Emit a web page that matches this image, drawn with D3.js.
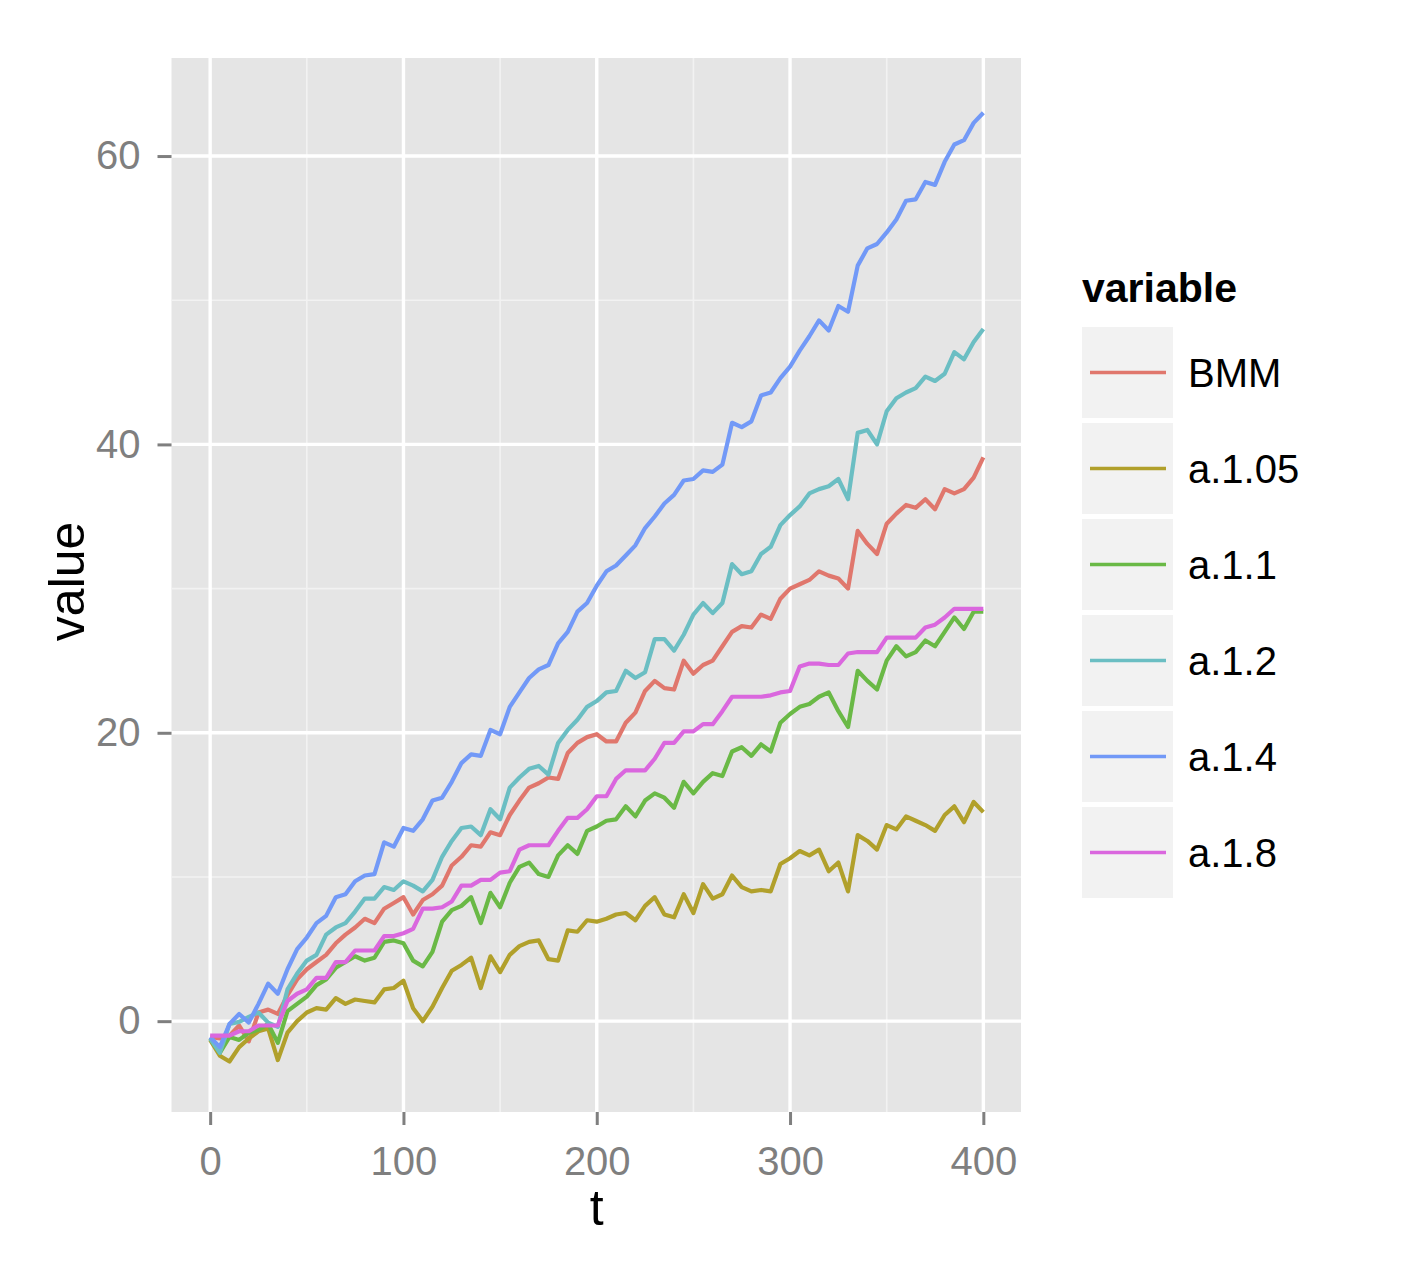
<!DOCTYPE html>
<html lang="en">

<head>
    <meta charset="UTF-8">
    <title>value by t</title>
    <script src="https://d3js.org/d3.v7.min.js"></script>
    <style>
        body {
            margin: 0;
            padding: 0;
            background: #fff;
        }

        svg text {
            font-family: "Liberation Sans", Arial, Helvetica, sans-serif;
        }
    </style>
</head>

<body>
    <div id="chart"></div>
    <script>
        // sample points along t (read every 5 steps off the original plot)
        var tValues = [
            0, 5, 10, 15, 20, 25, 30, 35, 40, 45,
            50, 55, 60, 65, 70, 75, 80, 85, 90, 95,
            100, 105, 110, 115, 120, 125, 130, 135, 140, 145,
            150, 155, 160, 165, 170, 175, 180, 185, 190, 195,
            200, 205, 210, 215, 220, 225, 230, 235, 240, 245,
            250, 255, 260, 265, 270, 275, 280, 285, 290, 295,
            300, 305, 310, 315, 320, 325, 330, 335, 340, 345,
            350, 355, 360, 365, 370, 375, 380, 385, 390, 395,
            400];

        var seriesNames = ["BMM", "a.1.05", "a.1.1", "a.1.2", "a.1.4", "a.1.8"];
        var seriesColors = ["#E0776D", "#B1A02B", "#6AB946", "#6BBEC3", "#7299F7", "#DA67DE"];

        var bmm = [
            -1.1, -1.2, -1.0, -0.3, -1.4, 0.6, 0.8, 0.5, 1.8, 2.9,
            3.6, 4.1, 4.6, 5.4, 6.0, 6.5, 7.1, 6.8, 7.8, 8.2,
            8.6, 7.4, 8.4, 8.8, 9.4, 10.8, 11.4, 12.2, 12.1, 13.1,
            12.9, 14.3, 15.3, 16.2, 16.5, 16.9, 16.8, 18.6, 19.3, 19.7,
            19.9, 19.4, 19.4, 20.7, 21.4, 22.9, 23.6, 23.1, 23.0, 25.0,
            24.1, 24.7, 25.0, 26.0, 27.0, 27.4, 27.3, 28.2, 27.9, 29.3,
            30.0, 30.3, 30.6, 31.2, 30.9, 30.7, 30.0, 34.0, 33.1, 32.4,
            34.5, 35.2, 35.8, 35.6, 36.2, 35.5, 36.9, 36.6, 36.9, 37.7,
            39.1];

        var a105 = [
            -1.3, -2.4, -2.8, -1.8, -1.2, -0.7, -0.5, -2.7, -0.8, 0.0,
            0.6, 0.9, 0.8, 1.6, 1.2, 1.5, 1.4, 1.3, 2.2, 2.3,
            2.8, 0.9, 0.0, 1.0, 2.3, 3.5, 3.9, 4.4, 2.3, 4.5,
            3.4, 4.6, 5.2, 5.5, 5.6, 4.3, 4.2, 6.3, 6.2, 7.0,
            6.9, 7.1, 7.4, 7.5, 7.0, 8.0, 8.6, 7.4, 7.2, 8.8,
            7.5, 9.5, 8.5, 8.8, 10.1, 9.3, 9.0, 9.1, 9.0, 10.9,
            11.3, 11.8, 11.5, 11.9, 10.4, 11.0, 9.0, 12.9, 12.5, 11.9,
            13.6, 13.3, 14.2, 13.9, 13.6, 13.2, 14.3, 14.9, 13.8, 15.2,
            14.5];

        var a11 = [
            -1.2, -2.2, -1.1, -1.3, -0.8, -0.6, -0.2, -1.5, 0.7, 1.2,
            1.7, 2.5, 2.9, 3.7, 4.1, 4.5, 4.2, 4.4, 5.5, 5.6,
            5.4, 4.2, 3.8, 4.8, 6.9, 7.7, 8.0, 8.6, 6.8, 8.9,
            7.9, 9.6, 10.7, 11.0, 10.2, 10.0, 11.5, 12.2, 11.6, 13.2,
            13.5, 13.9, 14.0, 14.9, 14.2, 15.3, 15.8, 15.5, 14.8, 16.6,
            15.8, 16.6, 17.2, 17.0, 18.7, 19.0, 18.4, 19.2, 18.7, 20.7,
            21.3, 21.8, 22.0, 22.5, 22.8, 21.5, 20.4, 24.3, 23.6, 23.0,
            25.0, 26.0, 25.3, 25.6, 26.4, 26.0, 27.0, 28.0, 27.2, 28.4,
            28.4];

        var a12 = [
            -1.2, -2.2, -0.2, -0.05, 0.3, 0.6, -0.1, -0.4, 2.2, 3.3,
            4.2, 4.6, 6.0, 6.5, 6.8, 7.6, 8.5, 8.5, 9.3, 9.1,
            9.7, 9.4, 9.0, 9.8, 11.4, 12.5, 13.4, 13.5, 12.9, 14.7,
            14.0, 16.2, 16.9, 17.5, 17.7, 17.1, 19.3, 20.2, 20.9, 21.8,
            22.2, 22.8, 22.9, 24.3, 23.8, 24.2, 26.5, 26.5, 25.7, 26.8,
            28.2, 29.0, 28.3, 29.0, 31.7, 31.0, 31.2, 32.4, 32.9, 34.4,
            35.1, 35.7, 36.6, 36.9, 37.1, 37.6, 36.2, 40.8, 41.0, 40.0,
            42.3, 43.2, 43.6, 43.9, 44.7, 44.4, 44.9, 46.4, 45.9, 47.1,
            48.0];

        var a14 = [
            -1.1, -1.8, -0.2, 0.5, -0.1, 1.2, 2.6, 1.9, 3.6, 5.0,
            5.8, 6.8, 7.3, 8.6, 8.8, 9.7, 10.1, 10.2, 12.4, 12.1,
            13.4, 13.2, 14.0, 15.3, 15.5, 16.6, 17.9, 18.5, 18.4, 20.2,
            19.9, 21.8, 22.8, 23.8, 24.4, 24.7, 26.2, 27.0, 28.4, 29.0,
            30.2, 31.2, 31.6, 32.3, 33.0, 34.2, 35.0, 35.9, 36.5, 37.5,
            37.6, 38.2, 38.1, 38.6, 41.5, 41.2, 41.6, 43.4, 43.6, 44.6,
            45.4, 46.5, 47.5, 48.6, 47.9, 49.6, 49.2, 52.4, 53.6, 53.9,
            54.7, 55.6, 56.9, 57.0, 58.2, 58.0, 59.6, 60.8, 61.1, 62.3,
            63.0];

        var a18 = [
            -1.0, -1.0, -1.0, -0.7, -0.7, -0.3, -0.3, -0.3, 1.4, 1.9,
            2.2, 3.0, 3.0, 4.1, 4.1, 4.9, 4.9, 4.9, 5.9, 5.9,
            6.1, 6.4, 7.8, 7.8, 7.9, 8.3, 9.4, 9.4, 9.8, 9.8,
            10.3, 10.4, 11.9, 12.2, 12.2, 12.2, 13.2, 14.1, 14.1, 14.7,
            15.6, 15.6, 16.8, 17.4, 17.4, 17.4, 18.2, 19.3, 19.3, 20.1,
            20.1, 20.6, 20.6, 21.5, 22.5, 22.5, 22.5, 22.5, 22.6, 22.8,
            22.9, 24.6, 24.8, 24.8, 24.7, 24.7, 25.5, 25.6, 25.6, 25.6,
            26.6, 26.6, 26.6, 26.6, 27.3, 27.5, 28.0, 28.6, 28.6, 28.6,
            28.6];

        var xTicks = [0, 100, 200, 300, 400];
        var xMinor = [50, 150, 250, 350];
        var yTicks = [0, 20, 40, 60];
        var yMinor = [10, 30, 50];

        var width = 1416,
            height = 1270;
        var panel = { left: 171.5, right: 1021, top: 58, bottom: 1112 };

        var svg = d3.select("#chart").append("svg")
            .attr("width", width)
            .attr("height", height);

        var x = d3.scaleLinear().domain([-20, 420]).range([panel.left, panel.right + 1]);
        var y = d3.scaleLinear().domain([-6.3, 66.8]).range([panel.bottom, panel.top]);

        // panel background + grid (ggplot grey theme)
        svg.append("rect")
            .attr("x", panel.left)
            .attr("y", panel.top)
            .attr("width", panel.right - panel.left)
            .attr("height", panel.bottom - panel.top)
            .attr("fill", "#E5E5E5");

        var grid = svg.append("g").attr("class", "grid");

        grid.selectAll("line.xminor")
            .data(xMinor)
            .enter().append("line")
            .attr("class", "xminor")
            .attr("x1", function (d) { return x(d); })
            .attr("x2", function (d) { return x(d); })
            .attr("y1", panel.top)
            .attr("y2", panel.bottom)
            .attr("stroke", "#F2F2F2")
            .attr("stroke-width", 1.6);

        grid.selectAll("line.yminor")
            .data(yMinor)
            .enter().append("line")
            .attr("class", "yminor")
            .attr("x1", panel.left)
            .attr("x2", panel.right)
            .attr("y1", function (d) { return y(d); })
            .attr("y2", function (d) { return y(d); })
            .attr("stroke", "#F2F2F2")
            .attr("stroke-width", 1.6);

        grid.selectAll("line.xmajor")
            .data(xTicks)
            .enter().append("line")
            .attr("class", "xmajor")
            .attr("x1", function (d) { return x(d); })
            .attr("x2", function (d) { return x(d); })
            .attr("y1", panel.top)
            .attr("y2", panel.bottom)
            .attr("stroke", "#fff")
            .attr("stroke-width", 3.4);

        grid.selectAll("line.ymajor")
            .data(yTicks)
            .enter().append("line")
            .attr("class", "ymajor")
            .attr("x1", panel.left)
            .attr("x2", panel.right)
            .attr("y1", function (d) { return y(d); })
            .attr("y2", function (d) { return y(d); })
            .attr("stroke", "#fff")
            .attr("stroke-width", 3.4);

        // series
        var columns = [bmm, a105, a11, a12, a14, a18];
        var series = seriesNames.map(function (name, i) {
            return {
                name: name,
                color: seriesColors[i],
                values: tValues.map(function (t, j) { return { t: t, v: columns[i][j] }; })
            };
        });

        var line = d3.line()
            .x(function (d) { return x(d.t); })
            .y(function (d) { return y(d.v); });

        svg.append("g").selectAll("path")
            .data(series)
            .enter().append("path")
            .attr("d", function (d) { return line(d.values); })
            .attr("fill", "none")
            .attr("stroke", function (d) { return d.color; })
            .attr("stroke-width", 4.2)
            .attr("stroke-linejoin", "round")
            .attr("stroke-linecap", "butt");

        // axes
        var xAxis = svg.append("g")
            .attr("transform", "translate(0," + panel.bottom + ")")
            .call(d3.axisBottom(x).tickValues(xTicks).tickSize(13).tickPadding(22));

        var yAxis = svg.append("g")
            .attr("transform", "translate(" + panel.left + ",0)")
            .call(d3.axisLeft(y).tickValues(yTicks).tickSize(14).tickPadding(17));

        [xAxis, yAxis].forEach(function (ax) {
            ax.select(".domain").remove();
            ax.selectAll(".tick line")
                .attr("stroke", "#7F7F7F")
                .attr("stroke-width", 3);
            ax.selectAll(".tick text")
                .attr("fill", "#7F7F7F")
                .style("font-size", "40px");
        });

        svg.append("text")
            .attr("x", x(200))
            .attr("y", 1225)
            .attr("text-anchor", "middle")
            .style("font-size", "50px")
            .text("t");

        svg.append("text")
            .attr("transform", "translate(84," + y(30.5) + ") rotate(-90)")
            .attr("text-anchor", "middle")
            .style("font-size", "50px")
            .text("value");

        // legend
        var legend = svg.append("g").attr("transform", "translate(1082,0)");

        legend.append("text")
            .attr("x", 0)
            .attr("y", 302)
            .style("font-size", "41px")
            .style("font-weight", "bold")
            .text("variable");

        var key = legend.selectAll("g.key")
            .data(series)
            .enter().append("g")
            .attr("class", "key")
            .attr("transform", function (d, i) { return "translate(0," + (327 + i * 96) + ")"; });

        key.append("rect")
            .attr("width", 91)
            .attr("height", 91)
            .attr("fill", "#F2F2F2");

        key.append("line")
            .attr("x1", 8)
            .attr("x2", 84)
            .attr("y1", 45.5)
            .attr("y2", 45.5)
            .attr("stroke", function (d) { return d.color; })
            .attr("stroke-width", 3.4);

        key.append("text")
            .attr("x", 106)
            .attr("y", 60)
            .style("font-size", "40px")
            .text(function (d) { return d.name; });
    </script>
</body>

</html>
